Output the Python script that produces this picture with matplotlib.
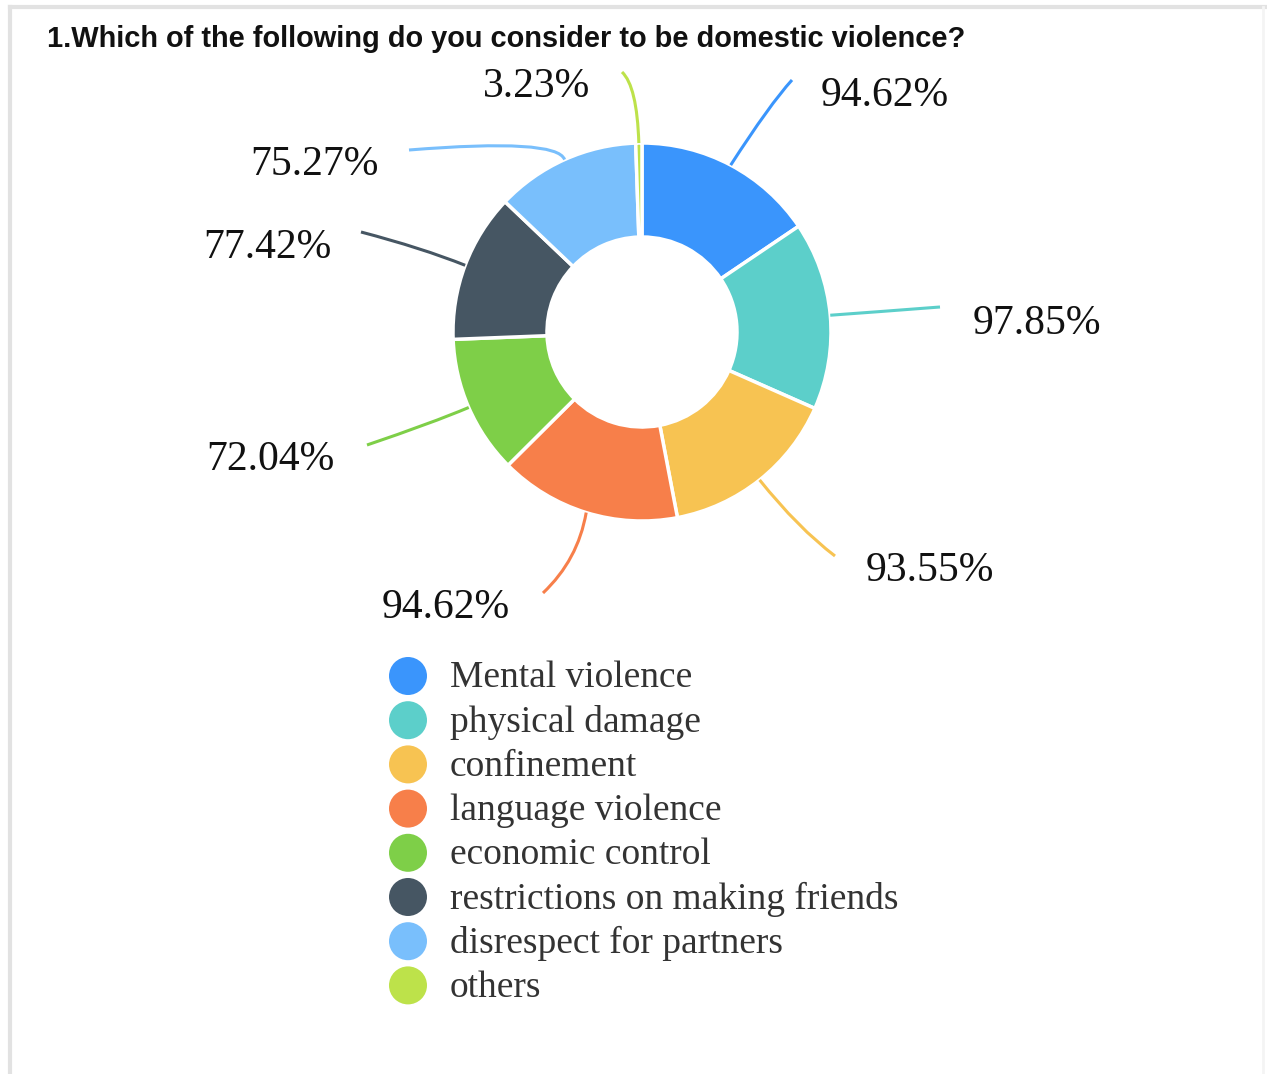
import numpy as np
import matplotlib
matplotlib.use("Agg")
import matplotlib.pyplot as plt
from matplotlib.path import Path
from matplotlib.patches import PathPatch

W, H = 1267, 1074

labels = ["Mental violence", "physical damage", "confinement", "language violence",
          "economic control", "restrictions on making friends",
          "disrespect for partners", "others"]
shares = [94.62, 97.85, 93.55, 94.62, 72.04, 77.42, 75.27, 3.23]
colors = ["#3a95fc", "#5ccfca", "#f7c352", "#f77f4a", "#7ecf48", "#465663",
          "#79bffc", "#bde24a"]

# leader elbow / end points and text anchors, in pixel coords (y down)
elbows = [(770, 104), (875, 312), (798, 528), (578, 560), (432, 423),
          (422, 248), (557, 138), (637, 86)]
ends = [(792, 80), (940, 307), (835, 556), (543, 593), (367, 445),
        (361, 232), (409, 150), (622, 72)]
text_xy = [(885, 96), (1037, 324), (930, 571), (446, 608), (270, 460),
           (267, 248), (314, 165), (537, 87)]

CX, CY, R_OUT, R_IN = 642, 332, 189, 95


def fy(y):
    return H - y


fig = plt.figure(figsize=(W / 100, H / 100), dpi=100)
ax = fig.add_axes([0, 0, 1, 1])

wedges, _ = ax.pie(shares, colors=colors, startangle=90, counterclock=False,
                   radius=R_OUT, center=(CX, fy(CY)),
                   wedgeprops=dict(width=R_OUT - R_IN, edgecolor="white",
                                   linewidth=2.5))

for w, el, en, txy, val, c in zip(wedges, elbows, ends, text_xy, shares, colors):
    mid = np.deg2rad((w.theta1 + w.theta2) / 2)
    x0 = CX + R_OUT * np.cos(mid)
    y0 = fy(CY) + R_OUT * np.sin(mid)
    # smooth leader: quadratic bend through the elbow
    verts = [(x0, y0), (el[0], fy(el[1])), (en[0], fy(en[1]))]
    path = Path(verts, [Path.MOVETO, Path.CURVE3, Path.CURVE3])
    ax.add_patch(PathPatch(path, fill=False, edgecolor=c, lw=2.2))
    ax.text(txy[0], fy(txy[1]), f"{val:.2f}%", ha="center", va="center",
            fontsize=30, family="Liberation Serif", color="#111111")

# legend
for i, (lab, c) in enumerate(zip(labels, colors)):
    ly = 676 + i * 44.2
    ax.scatter([408], [fy(ly)], s=(38 * 0.72) ** 2, color=c, edgecolor="none")
    ax.text(450, fy(ly + 2), lab, ha="left", va="center", fontsize=27,
            family="Liberation Serif", color="#333333")

ax.text(47, fy(39), "1.Which of the following do you consider to be domestic violence?",
        ha="left", va="center", fontsize=20.9, fontweight="bold",
        family="Liberation Sans", color="#111111")

# panel frame
ax.plot([10, W], [fy(7), fy(7)], color="#e2e2e2", lw=3)
ax.plot([10, 10], [fy(7), 0], color="#e2e2e2", lw=3)
ax.plot([1263, 1263], [fy(7), 0], color="#f4f4f4", lw=2)

ax.set_xlim(0, W)
ax.set_ylim(0, H)
ax.set_aspect("auto")
ax.axis("off")

fig.savefig("out.png", dpi=100)
